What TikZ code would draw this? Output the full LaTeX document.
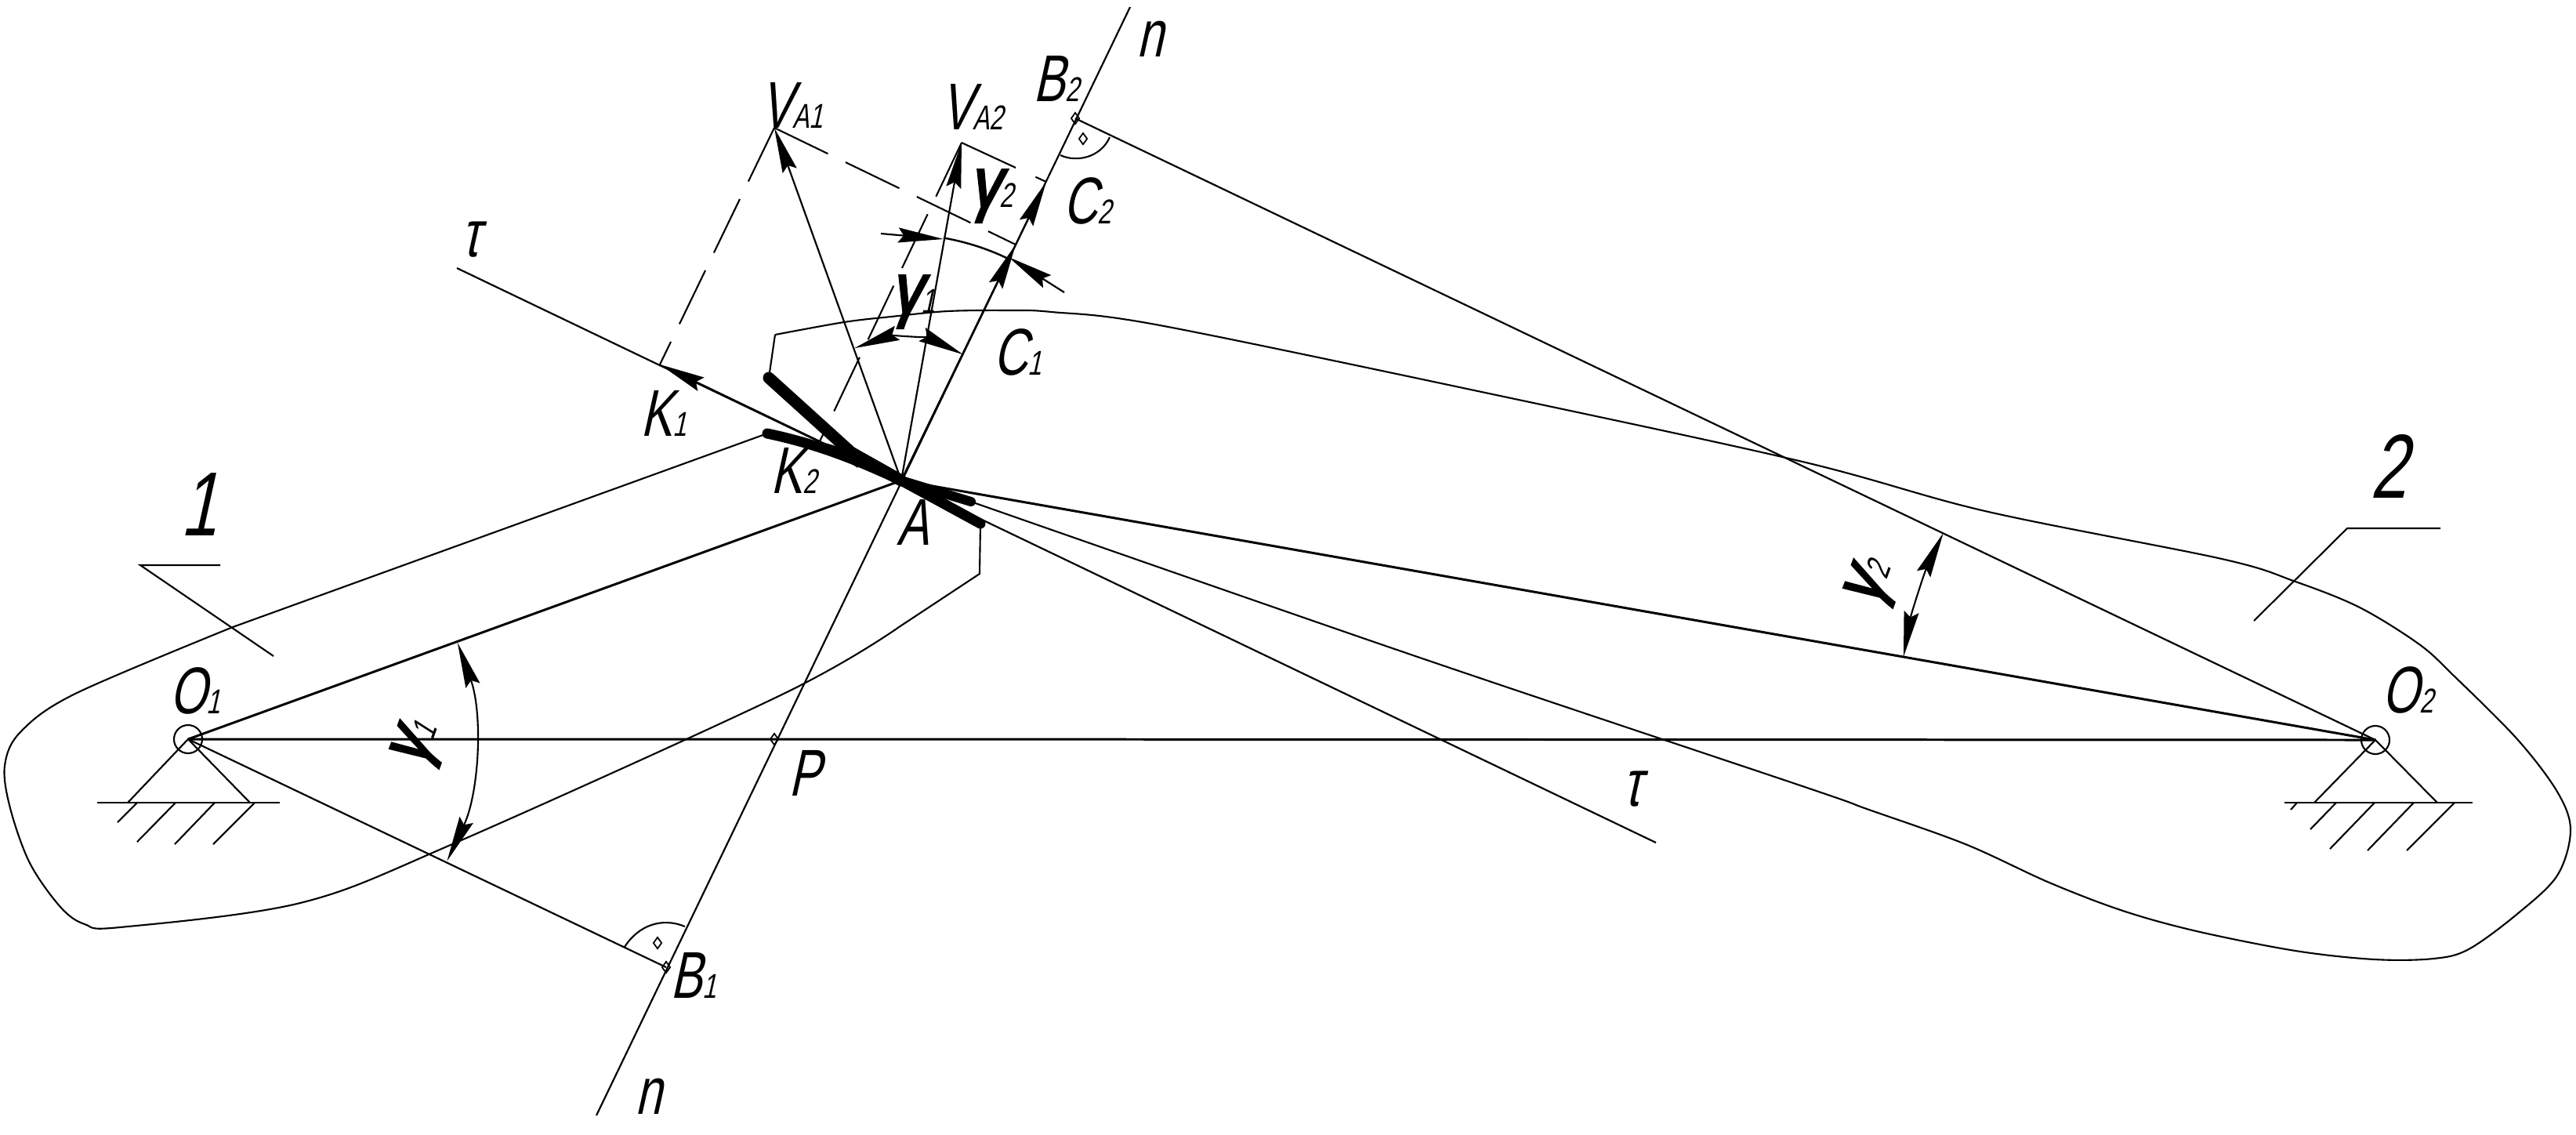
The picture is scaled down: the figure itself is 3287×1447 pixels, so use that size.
\documentclass[tikz,border=0pt]{standalone}
\usepackage{fontspec}
\usetikzlibrary{arrows.meta}
\newfontfamily\gost[FakeStretch=0.72,FakeSlant=0.22]{Liberation Sans}
\newfontfamily\gostb[FakeStretch=0.85,FakeSlant=0.22,FakeBold=3]{Liberation Sans}
\newcommand{\sbs}[1]{{\fontsize{12.5}{12.5}\selectfont #1}}
\tikzset{
  x=0.01cm,y=-0.01cm,
  base line/.style={line width=0.62pt,black},
  heavy line/.style={line width=0.85pt,black},
  profile/.style={line width=0.6pt,black},
  tip line/.style={line width=1.5mm,line cap=round,black},
  dash line/.style={line width=0.6pt,black,dash pattern=on 7.6mm off 2.5mm},
  vec/.style={base line,-{Stealth[length=5.8mm,width=1.9mm,inset=0.7mm]}},
  dim/.style={line width=0.6pt,{Stealth[length=5.8mm,width=1.9mm,inset=0.7mm]}-{Stealth[length=5.8mm,width=1.9mm,inset=0.7mm]}},
  lbl/.style={font=\gost\fontsize{24}{24}\selectfont,inner sep=0pt,anchor=base west},
  big/.style={font=\gost\fontsize{33}{33}\selectfont,inner sep=0pt,anchor=base west},
  gam/.style={font=\gostb\fontsize{26}{26}\selectfont,inner sep=0pt},
  dotm/.style={diamond,draw,line width=0.5pt,inner sep=0pt,minimum width=1.1mm,minimum height=1.5mm},
}
\usetikzlibrary{shapes.geometric}
\begin{document}
\begin{tikzpicture}
\useasboundingbox (0,0) rectangle (3287,1447);
% key points
\coordinate (O1) at (240,943);
\coordinate (O2) at (3031,944);
\coordinate (A) at (1150,613);
\coordinate (P) at (988,943);
\coordinate (B1) at (850,1234);
\coordinate (B2) at (1372,151);
\coordinate (Nb) at (761,1423);
\coordinate (Nt) at (1442,9);
\coordinate (C2) at (1335,232);
\coordinate (C1) at (1296,312);
\coordinate (VA1) at (988,163);
\coordinate (VA2) at (1227,182);
\coordinate (K1) at (842,465);
\coordinate (K2) at (1046,563);
\coordinate (Tt) at (583,342);
\coordinate (Tb) at (2113,1075);
% profiles
\draw[profile] (979,553) -- (297,800) plot[smooth,tension=.55] coordinates {(297,800) (96,885) (26,934) (6,977) (13,1031) (38,1101) (77,1157) (108,1179) (153,1183) (383,1152) (577,1077) (1000,885) (1147,800)} -- (1250,732) -- (1251,668);
\draw[profile] (981,482) -- (989,427) plot[smooth,tension=.55] coordinates {(989,427) (1077,411) (1137,404) (1209,397) (1289,396) (1342,398) (1480,415) (1900,502) (2300,589) (2533,652) (2835,713) (2929,742) (3011,775) (3087,822) (3131,862) (3212,943) (3263,1010) (3280,1059) (3263,1117) (3212,1166) (3150,1211) (3105,1223) (3030,1224) (2929,1213) (2803,1188) (2709,1162) (2615,1126) (2508,1077) (2382,1032) (2300,1003) (1800,835) (1239,640)};
\draw[tip line,line width=1.3mm] (979,553) .. controls (1050,568) and (1100,590) .. (A);
\draw[tip line] (981,482) -- (1086,577) -- (A);
\draw[tip line,line width=1.3mm] (A) -- (1251,668);
\draw[tip line,line width=1.2mm] (A) -- (1239,640);
% main lines
\draw[heavy line] (O1) -- (P) -- (O2);
\draw[heavy line] (O1) -- (A);
\draw[heavy line] (O2) -- (A);
\draw[base line] (O1) -- (B1);
\draw[base line] (O2) -- (B2);
\draw[base line] (Nb) -- (Nt);
\draw[base line] (Tt) -- (Tb);
% velocity vectors
\draw[vec] (A) -- (VA1);
\draw[vec] (A) -- (VA2);
\draw[vec] (A) -- (C2);
\draw[vec] (A) -- (C1);
\draw[vec] (A) -- (K1);
\draw[vec] (A) -- (K2);
% dashed construction
\draw[dash line] (VA1) -- (K1);
\draw[dash line] (VA1) -- (C1);
\draw[dash line] (VA2) -- (K2);
\draw[dash line,dash pattern=on 7.6mm off 2.8mm] (VA2) -- (C2);
% angular dimensions
\path (O1) ++(-25.2:365) coordinate (g1lo);
\path (O2) ++(170:611) coordinate (g2lo);
\draw[dim] (O1) ++(-25.2:3.65cm) arc[start angle=-25.2,end angle=19.7,radius=3.65cm];
\draw[dim] (O2) ++(170:6.11cm) arc[start angle=170,end angle=154.4,radius=6.11cm];
\draw[dim] (A) ++(109.5:1.79cm) arc[start angle=109.5,end angle=63.9,radius=1.79cm];
\draw[line width=0.7pt] (A) ++(80.1:3.14cm) arc[start angle=80.1,end angle=64.3,radius=3.14cm];
\coordinate (a1) at (1124,298);
\coordinate (a2) at (1204,305);
\coordinate (a3) at (1358,373);
\coordinate (a4) at (1287,328);
\draw[vec] (a1) -- (a2);
\draw[vec] (a3) -- (a4);
% right-angle marks
\draw[profile] (797,1208) .. controls (815,1180) and (845,1170) .. (874,1182);
\draw[profile] (1353,198) .. controls (1375,208) and (1405,200) .. (1416,175);
\node[dotm] (p1) at (839,1203) {};
\node[dotm] (p2) at (1382,177) {};
\node[dotm] (p3) at (B1) {};
\node[dotm] (p4) at (B2) {};
\node[dotm] (p5) at (P) {};
% leaders
\coordinate (l1a) at (281,721); \coordinate (l1b) at (179,721); \coordinate (l1c) at (349,837);
\coordinate (l2a) at (3114,674); \coordinate (l2b) at (2995,674); \coordinate (l2c) at (2876,792);
\draw[profile] (l1a) -- (l1b) -- (l1c);
\draw[profile] (l2a) -- (l2b) -- (l2c);
% supports
\node[circle,draw,line width=0.6pt,minimum size=3.6mm,inner sep=0pt] (c1) at (O1) {};
\node[circle,draw,line width=0.6pt,minimum size=3.6mm,inner sep=0pt] (c2) at (O2) {};
\draw[profile] (163,1024) -- (O1) -- (319,1024);
\draw[base line] (124,1024) -- (357,1024);
\draw[profile] (175,1024) -- (150,1049) (224,1024) -- (175,1074) (274,1024) -- (223,1077) (325,1024) -- (272,1077);
\draw[profile] (2953,1024) -- (O2) -- (3110,1024);
\draw[base line] (2915,1024) -- (3155,1024);
\draw[profile] (2931,1024) -- (2923,1033) (2981,1024) -- (2948,1058) (3030,1024) -- (2973,1083) (3080,1024) -- (3021,1085) (3132,1024) -- (3071,1085);
% labels
\node[lbl] (tVA1) at (970,163) {V\sbs{A1}};
\node[lbl] (tVA2) at (1200,165) {V\sbs{A2}};
\node[lbl] (tB2) at (1318,129) {B\sbs{2}};
\node[lbl] (tC2) at (1356,285) {C\sbs{2}};
\node[lbl] (tC1) at (1267,478) {C\sbs{1}};
\node[lbl] (tK1) at (817,556) {K\sbs{1}};
\node[lbl] (tK2) at (983,629) {K\sbs{2}};
\node[lbl] (tA) at (1144,695) {A};
\node[lbl] (tP) at (1006,1015) {P};
\node[lbl] (tO1) at (216,910) {O\sbs{1}};
\node[lbl] (tO2) at (3039,909) {O\sbs{2}};
\node[lbl] (tB1) at (855,1273) {B\sbs{1}};
\node[big] (t1) at (230,683) {1};
\node[big] (t2) at (3024,635) {2};
\node[lbl] (tn1) at (1450,72) {n};
\node[lbl] (tn2) at (810,1421) {n};
\node[lbl] (tt1) at (588,327) {τ};
\node[lbl] (tt2) at (2070,1028) {τ};
\node[gam] (g1) at (1172,178) {};
\node[gam] (gv2) at (1265,250) {γ\sbs{\gost 2}};
\node[gam] (gv1) at (1165,385) {γ\sbs{\gost 1}};
\node[gam,rotate=70] (gO1) at (535,950) {γ\sbs{\gost 1}};
\node[gam,rotate=70] (gO2) at (2390,745) {γ\sbs{\gost 2}};
\end{tikzpicture}
\end{document}
